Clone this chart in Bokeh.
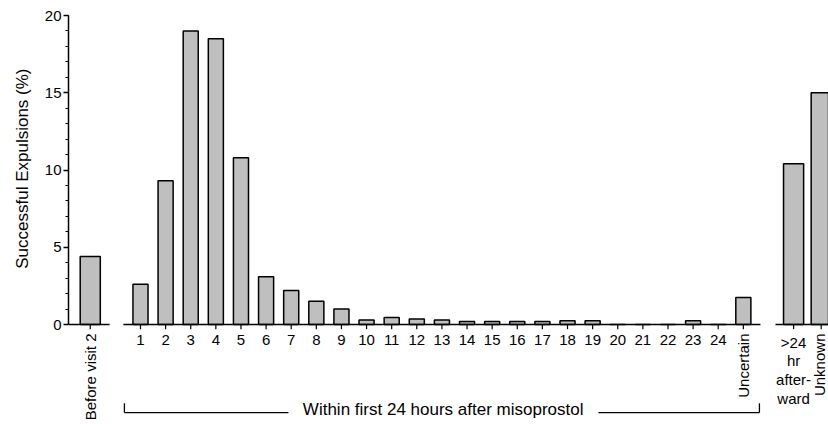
import math
from bokeh.plotting import figure
from bokeh.models import Range1d, FixedTicker, Title
from bokeh.embed import file_html
from bokeh.resources import INLINE
from bokeh.core.properties import value

# ---------------- data ----------------
before_labels = ["Before visit 2"]
before_values = [4.4]
hour_labels = [str(h) for h in range(1, 25)]
hour_values = [2.6, 9.3, 19.0, 18.5, 10.8, 3.1, 2.2, 1.5, 1.0, 0.3, 0.45, 0.35,
               0.3, 0.2, 0.2, 0.2, 0.2, 0.25, 0.25, 0.0, 0.0, 0.0, 0.25, 0.0]
uncertain_labels = ["Uncertain"]
uncertain_values = [1.75]
after_labels = [">24\nhr\nafter-\nward", "Unknown"]
after_values = [10.4, 15.0]
y_ticks = [0, 5, 10, 15, 20]
y_label = "Successful Expulsions (%)"
bracket_label = "Within first 24 hours after misoprostol"

# ---------------- layout positions (slot units) ----------------
x_before = [-1.0]
x_hours = [float(i) for i in range(1, 25)]
x_uncertain = [25.0]
x_after = [27.0, 28.1]

FONT = value("Liberation Sans")
FILL = "#bfbfbf"

p = figure(width=828, height=424,
           x_range=Range1d(-1.866, 28.39), y_range=Range1d(-6.47, 20),
           output_backend="svg", toolbar_location=None,
           x_axis_location=None,
           min_border_left=68, min_border_right=0,
           min_border_top=15, min_border_bottom=0)
p.outline_line_color = None
p.xgrid.visible = False
p.ygrid.visible = False
p.background_fill_color = "white"

# y axis
ax = p.yaxis[0]
ax.bounds = (0, 20)
ax.ticker = FixedTicker(ticks=y_ticks, minor_ticks=list(range(0, 21)))
ax.axis_line_width = 1.5
ax.axis_line_color = "black"
ax.major_tick_out = 5
ax.major_tick_in = 0
ax.minor_tick_out = 3
ax.minor_tick_in = 0
ax.major_tick_line_width = 1.3
ax.minor_tick_line_width = 1
ax.major_label_text_font = "Liberation Sans"
ax.major_label_text_font_size = "15px"
ax.major_label_text_color = "black"
ax.major_label_standoff = 2

# y axis title, centred on the 0-20 part of the scale
p.add_layout(Title(text=y_label, align="right", offset=53,
                   text_font="Liberation Sans", text_font_size="17px",
                   text_font_style="normal", text_color="black",
                   vertical_align="middle", standoff=18), "left")

bar_kw = dict(bottom=0, fill_color=FILL, line_color="black", line_width=1.5)
p.vbar(x=x_before, top=before_values, width=0.8, **bar_kw)
p.vbar(x=x_hours, top=hour_values, width=0.6, **bar_kw)
p.vbar(x=x_uncertain, top=uncertain_values, width=0.6, **bar_kw)
p.vbar(x=x_after, top=after_values, width=0.8, **bar_kw)

# baseline segments
p.segment(x0=[-1.866, 0.32, 26.28], y0=[0, 0, 0],
          x1=[-0.23, 25.68, 28.6], y1=[0, 0, 0],
          line_color="black", line_width=1.5)

# x ticks
all_x = x_before + x_hours + x_uncertain + x_after
p.segment(x0=all_x, y0=[0] * len(all_x), x1=all_x, y1=[-0.3] * len(all_x),
          line_color="black", line_width=1.2)

# horizontal hour labels
p.text(x=x_hours, y=[0] * len(x_hours), text=hour_labels, y_offset=15,
       text_align="center", text_baseline="middle",
       text_font=FONT, text_font_size="15px", text_color="black")

# rotated labels
rot_x = x_before + x_uncertain
rot_t = before_labels + uncertain_labels
p.text(x=rot_x, y=[0] * len(rot_x), text=rot_t, y_offset=9, angle=math.pi / 2,
       text_align="right", text_baseline="middle",
       text_font=FONT, text_font_size="15px", text_color="black")
p.text(x=[x_after[1]], y=[0], text=[after_labels[1]], y_offset=9, x_offset=-2,
       angle=math.pi / 2, text_align="right", text_baseline="middle",
       text_font=FONT, text_font_size="15px", text_color="black")

# multi-line label
p.text(x=[x_after[0]], y=[0], text=[after_labels[0]], y_offset=9,
       text_align="center", text_baseline="top", text_line_height=1.1,
       text_font=FONT, text_font_size="15px", text_color="black")

# bracket
yb = -5.70
yt = -5.10
p.segment(x0=[0.36, 0.36, 19.23, 25.64], y0=[yt, yb, yb, yb],
          x1=[0.36, 6.89, 25.64, 25.64], y1=[yb, yb, yb, yt],
          line_color="black", line_width=1.3)
p.text(x=[13.05], y=[yb], text=[bracket_label], y_offset=-3,
       text_align="center", text_baseline="middle",
       text_font=FONT, text_font_size="17px", text_color="black")

open("out.html", "w").write(file_html(p, INLINE))
